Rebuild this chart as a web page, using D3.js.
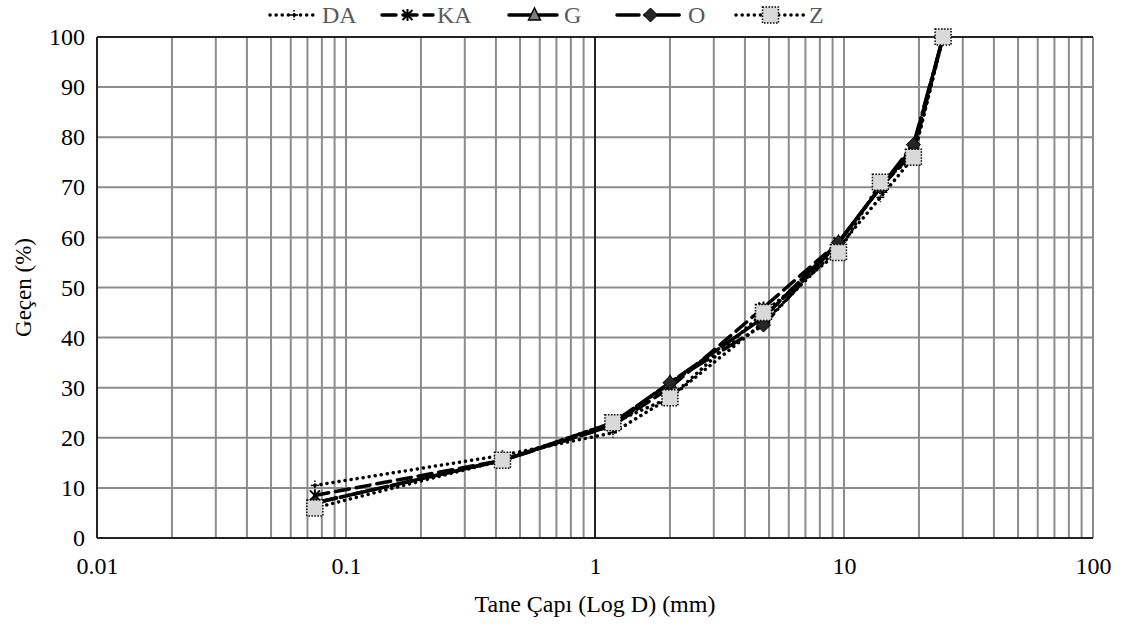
<!DOCTYPE html>
<html>
<head>
<meta charset="utf-8">
<script src="https://cdnjs.cloudflare.com/ajax/libs/d3/7.8.5/d3.min.js"></script>
<style>
body { margin: 0; background: #fff; }
text { font-family: "Liberation Serif", "Times New Roman", serif; }
</style>
</head>
<body>
<svg id="canvas" width="1126" height="628"></svg>
<script>
// sieve sizes (mm)
var sizes = [0.075, 0.425, 1.18, 2.0, 4.75, 9.5, 14, 19, 25];
var seriesNames = ['DA', 'KA', 'G', 'O', 'Z'];
var valDA = [10.5, 16.5, 21, 28, 43, 58, 68, 76, 100];
var valKA = [8.5, 15.5, 22.5, 30, 46, 59, 70, 77, 100];
var valG  = [7, 15.5, 23, 31, 44, 59, 70, 78, 100];
var valO  = [7, 15.5, 22.5, 31, 42.5, 59, 70, 78.5, 100];
var valZ  = [6, 15.5, 23, 28, 45, 57, 71, 76, 100];
var yTicks = [0, 10, 20, 30, 40, 50, 60, 70, 80, 90, 100];
var xTicks = [0.01, 0.1, 1, 10, 100];

var svg = d3.select('#canvas');
var m = {left: 97, right: 33, top: 37, bottom: 90};
var W = 1126 - m.left - m.right, H = 628 - m.top - m.bottom;
var g = svg.append('g').attr('transform', 'translate(' + m.left + ',' + m.top + ')');

var x = d3.scaleLog().domain([0.01, 100]).range([0, W]);
var y = d3.scaleLinear().domain([0, 100]).range([H, 0]);

// minor + major vertical grid
var vgrid = [];
[0.01, 0.1, 1, 10].forEach(function(d) {
  for (var k = 1; k <= 9; k++) vgrid.push(d * k);
});
vgrid.push(100);
g.selectAll('.vg').data(vgrid).enter().append('line')
  .attr('x1', function(d) { return x(d); }).attr('x2', function(d) { return x(d); })
  .attr('y1', 0).attr('y2', H)
  .style('stroke', '#8c8c8c').style('stroke-width', 2);
g.selectAll('.hg').data(yTicks).enter().append('line')
  .attr('x1', 0).attr('x2', W)
  .attr('y1', function(d) { return y(d); }).attr('y2', function(d) { return y(d); })
  .style('stroke', '#8c8c8c').style('stroke-width', 2);

// frame
g.append('line').attr('x1', 0).attr('x2', W).attr('y1', 0).attr('y2', 0).style('stroke', '#000').style('stroke-width', 1.5);
g.append('line').attr('x1', 0).attr('x2', 0).attr('y1', 0).attr('y2', H).style('stroke', '#000').style('stroke-width', 1.5);
g.append('line').attr('x1', 0).attr('x2', W).attr('y1', H).attr('y2', H).style('stroke', '#000').style('stroke-width', 1.5);
g.append('line').attr('x1', x(1)).attr('x2', x(1)).attr('y1', 0).attr('y2', H).style('stroke', '#000').style('stroke-width', 1.5);

// axes labels
var yAxis = d3.axisLeft(y).tickValues(yTicks).tickSize(0).tickPadding(12);
var ya = g.append('g').call(yAxis);
ya.select('.domain').remove();
ya.selectAll('text').style('font-size', '24px').style('font-family', 'Liberation Serif')
  .attr('fill', '#000');

var xAxis = d3.axisBottom(x).tickValues(xTicks).tickSize(0).tickPadding(19)
  .tickFormat(function(d) { return String(d); });
var xa = g.append('g').attr('transform', 'translate(0,' + H + ')').call(xAxis);
xa.select('.domain').remove();
xa.selectAll('text').style('font-size', '24px').style('font-family', 'Liberation Serif')
  .attr('fill', '#000');

svg.append('text').attr('x', m.left + x(1)).attr('y', 612).attr('text-anchor', 'middle')
  .style('font-size', '24px').text('Tane Çapı (Log D) (mm)');
svg.append('text').attr('transform', 'translate(31,' + (m.top + H / 2) + ') rotate(-90)')
  .attr('text-anchor', 'middle').style('font-size', '23px').text('Geçen (%)');

// series
var data = [valDA, valKA, valG, valO, valZ];
var dashes = ['0.1,6', '14,7', '22,4', '22,6,0.1,6,0.1,6', '0.1,6'];
var line = d3.line().x(function(d) { return x(d[0]); }).y(function(d) { return y(d[1]); });

function marker(sel, name) {
  if (name === 'DA') {
    sel.append('line').attr('x1', -4).attr('x2', 4).attr('y1', 0).attr('y2', 0).style('stroke', '#000').style('stroke-width', 1.5);
    sel.append('line').attr('x1', 0).attr('x2', 0).attr('y1', -5).attr('y2', 5).style('stroke', '#000').style('stroke-width', 1.5).style('stroke-dasharray', '1.5,1.5');
  } else if (name === 'KA') {
    sel.append('path').attr('d', 'M-5,-5L5,5M5,-5L-5,5M0,-6L0,6').style('stroke', '#000').style('stroke-width', 2);
  } else if (name === 'G') {
    sel.append('path').attr('d', 'M0,-7L6,5L-6,5Z').style('fill', '#7f7f7f').style('stroke', '#000').style('stroke-width', 1.5);
  } else if (name === 'O') {
    sel.append('path').attr('d', 'M0,-7L7,0L0,7L-7,0Z').style('fill', '#262626').style('stroke', '#000').style('stroke-width', 1);
  } else {
    sel.append('rect').attr('x', -8).attr('y', -8).attr('width', 16).attr('height', 16)
      .style('fill', '#d9d9d9').style('stroke', '#000').style('stroke-width', 1.5).style('stroke-dasharray', '1.5,1.5');
  }
}

seriesNames.forEach(function(name, i) {
  var pts = sizes.map(function(s, j) { return [s, data[i][j]]; });
  g.append('path').datum(pts).attr('d', line)
    .style('fill', 'none').style('stroke', '#000').style('stroke-width', 3.5)
    .style('stroke-linecap', 'round')
    .style('stroke-dasharray', dashes[i]);
});
seriesNames.forEach(function(name, i) {
  sizes.forEach(function(s, j) {
    var mk = g.append('g').attr('transform', 'translate(' + x(s) + ',' + y(data[i][j]) + ')');
    marker(mk, name);
  });
});

// legend
var legX = [270, 382, 509, 617, 736];
var legLen = [48, 51, 51, 67, 69];
seriesNames.forEach(function(name, i) {
  var lg = svg.append('g').attr('transform', 'translate(' + legX[i] + ',15)');
  var len = legLen[i];
  lg.append('line').attr('x1', 0).attr('x2', len).attr('y1', 0).attr('y2', 0)
    .style('stroke', '#000').style('stroke-width', 3.5).style('stroke-linecap', 'round')
    .style('stroke-dasharray', dashes[i]);
  var mk = lg.append('g').attr('transform', 'translate(' + (len / 2) + ',0)');
  marker(mk, name);
  lg.append('text').attr('x', len + 4).attr('y', 8)
    .style('font-size', '24px').attr('fill', '#595959').text(name);
});
</script>
</body>
</html>
